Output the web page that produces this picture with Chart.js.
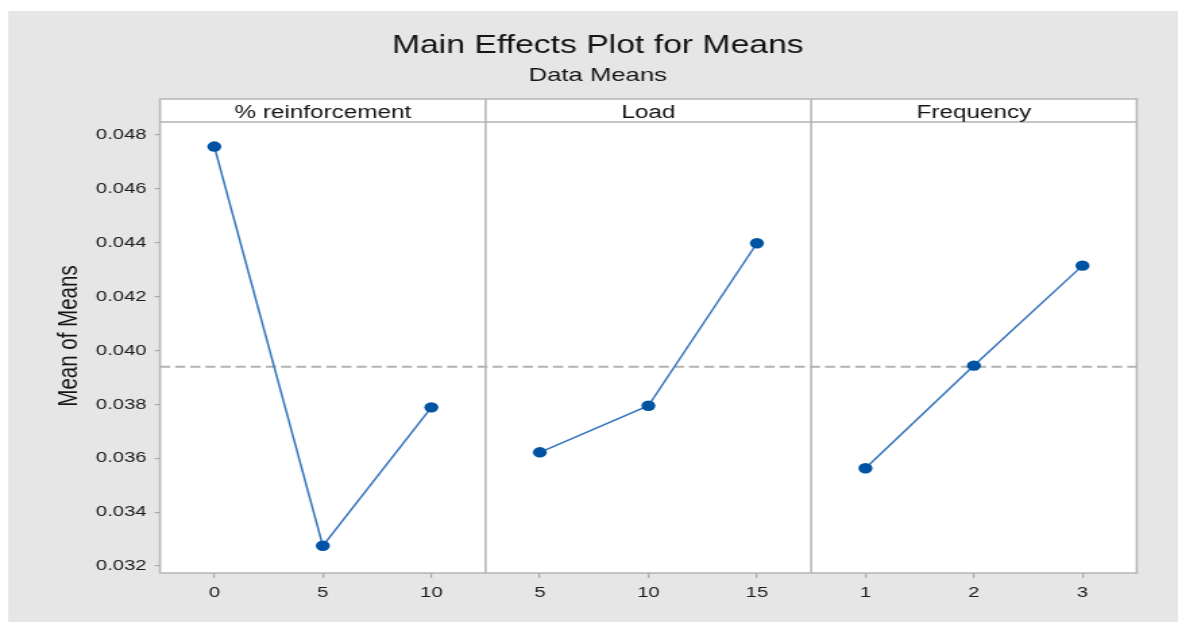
<!DOCTYPE html>
<html>
<head>
<meta charset="utf-8">
<title>Main Effects Plot for Means</title>
<script src="https://cdn.jsdelivr.net/npm/chart.js@4.4.1/dist/chart.umd.min.js"></script>
<style>
  html, body { margin: 0; padding: 0; background: #fff; overflow: hidden; }
</style>
</head>
<body>
<!-- the reference picture is stretched sideways, so the canvas is drawn narrow and shown wide -->
<canvas id="chart" width="873" height="622" style="display:block;width:1178px;height:622px"></canvas>
<script>
const factors = ['% reinforcement', 'Load', 'Frequency'];

const reinforcementLevels = [0, 5, 10];
const reinforcementMeans = [0.04757, 0.03275, 0.03789];

const loadLevels = [5, 10, 15];
const loadMeans = [0.03622, 0.03795, 0.04398];

const frequencyLevels = [1, 2, 3];
const frequencyMeans = [0.03563, 0.03944, 0.04315];

const grandMean = 0.0394;
const yTicks = [0.032, 0.034, 0.036, 0.038, 0.040, 0.042, 0.044, 0.046, 0.048];

const levels = [reinforcementLevels, loadLevels, frequencyLevels];
const means = [reinforcementMeans, loadMeans, frequencyMeans];

// each factor gets its own panel, 3 units wide on a shared x scale
const xTickPositions = [];
const xTickLabels = [];
levels.forEach((lv, p) => {
  lv.forEach((v, i) => {
    xTickPositions.push(p * 3 + i + 0.5);
    xTickLabels.push(String(v));
  });
});

const panelDatasets = means.map((m, p) => ({
  label: factors[p],
  data: m.map((y, i) => ({ x: p * 3 + i + 0.5, y: y })),
  borderColor: '#3574be',
  borderWidth: 1.5,
  pointBackgroundColor: '#0052a3',
  pointBorderColor: '#0052a3',
  pointRadius: 5.2,
  pointBorderWidth: 0,
  tension: 0
}));

const meanLine = {
  label: 'Mean',
  data: [{ x: 0, y: grandMean }, { x: 9, y: grandMean }],
  borderColor: '#b2b2b2',
  borderWidth: 2,
  borderDash: [7.5, 3.7],
  pointRadius: 0
};

const panelFrame = {
  id: 'panelFrame',
  beforeDraw(chart) {
    const { ctx, chartArea: a, width, height } = chart;
    ctx.save();
    ctx.fillStyle = '#e6e6e6';
    ctx.fillRect(6, 11, width - 6, height - 11);
    ctx.fillStyle = '#ffffff';
    ctx.fillRect(a.left, a.top, a.right - a.left, a.bottom - a.top);
    ctx.restore();
  },
  afterDatasetsDraw(chart) {
    const { ctx, chartArea: a, scales: { x } } = chart;
    const headerBottom = a.top + 23;
    ctx.save();
    ctx.strokeStyle = '#b4b4b4';
    ctx.lineWidth = 1.5;
    ctx.strokeRect(a.left, a.top, a.right - a.left, a.bottom - a.top);
    ctx.beginPath();
    ctx.moveTo(a.left, headerBottom);
    ctx.lineTo(a.right, headerBottom);
    for (let p = 1; p < factors.length; p++) {
      const px = x.getPixelForValue(p * 3);
      ctx.moveTo(px, a.top);
      ctx.lineTo(px, a.bottom);
    }
    ctx.stroke();
    ctx.fillStyle = '#151515';
    ctx.font = '18px "Liberation Sans", Arial, sans-serif';
    ctx.textAlign = 'center';
    ctx.textBaseline = 'middle';
    factors.forEach((f, p) => {
      ctx.fillText(f, x.getPixelForValue(p * 3 + 1.5), a.top + 14);
    });
    ctx.restore();
  }
};

new Chart(document.getElementById('chart'), {
  type: 'line',
  data: { datasets: [...panelDatasets, meanLine] },
  plugins: [panelFrame],
  options: {
    responsive: false,
    devicePixelRatio: 1,
    animation: false,
    layout: { padding: { top: 12, right: 0, bottom: 0, left: 13 } },
    font: { family: '"Liberation Sans", Arial, sans-serif' },
    plugins: {
      legend: { display: false },
      tooltip: { enabled: false },
      title: {
        display: true,
        text: 'Main Effects Plot for Means',
        color: '#151515',
        font: { size: 25, weight: 'normal' },
        padding: { top: 19, bottom: 0 }
      },
      subtitle: {
        display: true,
        text: 'Data Means',
        color: '#151515',
        font: { size: 19 },
        padding: { top: 3, bottom: 12.2 }
      }
    },
    scales: {
      x: {
        type: 'linear',
        min: 0,
        max: 9,
        afterBuildTicks: (scale) => {
          scale.ticks = xTickPositions.map(v => ({ value: v }));
        },
        afterFit: (scale) => { scale.height = 49; },
        border: { display: false },
        grid: { drawOnChartArea: false, color: '#a8a8a8', tickLength: 5, lineWidth: 1.2 },
        ticks: {
          color: '#1c1c1c',
          font: { size: 15 },
          padding: 6,
          maxRotation: 0,
          autoSkip: false,
          callback: (value, index) => xTickLabels[index]
        }
      },
      y: {
        min: 0.03174,
        max: 0.049336,
        afterBuildTicks: (scale) => {
          scale.ticks = yTicks.map(v => ({ value: v }));
        },
        afterFit: (scale) => { scale.width = 105.6; },
        border: { display: false },
        grid: { drawOnChartArea: false, color: '#a8a8a8', tickLength: 4, lineWidth: 1.2 },
        ticks: {
          color: '#1c1c1c',
          font: { size: 15 },
          padding: 6,
          callback: (value) => value.toFixed(3)
        },
        title: {
          display: true,
          text: 'Mean of Means',
          color: '#151515',
          font: { size: 20.5 },
          padding: { top: 26, bottom: 0 }
        }
      },
      // empty right-hand axis, only keeps the gray margin on the right
      yRight: {
        position: 'right',
        display: true,
        afterFit: (scale) => { scale.width = 30.6; },
        border: { display: false },
        grid: { display: false },
        ticks: { display: false }
      }
    }
  }
});
</script>
</body>
</html>
